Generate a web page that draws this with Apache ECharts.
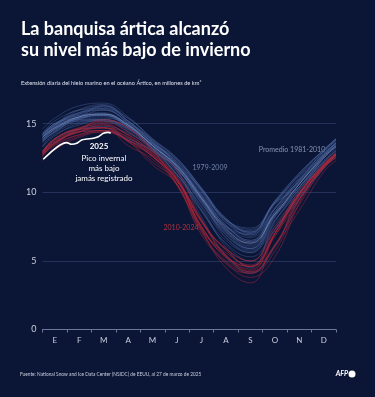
<!DOCTYPE html>
<html>
<head>
<meta charset="utf-8">
<script src="https://cdn.jsdelivr.net/npm/echarts@6/dist/echarts.min.js"></script>
<style>
  html, body { margin: 0; padding: 0; background: #0b1637; }
  #chart { width: 375px; height: 397px; }
</style>
</head>
<body>
<div id="chart"></div>
<script>
// month labels (Spanish initials) and sample positions in "months since Jan 1"
const months = ['E', 'F', 'M', 'A', 'M', 'J', 'J', 'A', 'S', 'O', 'N', 'D'];
// 1 ene, mid-month x12, 31 dic
const samplePos = [0, 0.5, 1.5, 2.5, 3.5, 4.5, 5.5, 6.5, 7.5, 8.5, 9.5, 10.5, 11.5, 12];

// extent, millions of km2, one row per year
const years1979_2009 = [1979,1980,1981,1982,1983,1984,1985,1986,1987,1988,1989,1990,1991,1992,1993,1994,1995,1996,1997,1998,1999,2000,2001,2002,2003,2004,2005,2006,2007,2008,2009];
const extent1979_2009 = [
  [14.6, 15.4, 16.3, 16.5, 15.5, 13.9, 12.5, 10.3, 8.0, 6.8, 8.8, 10.8, 12.7, 13.6],
  [14.2, 14.9, 16.0, 16.1, 15.4, 13.8, 12.2, 10.1, 8.0, 7.4, 9.2, 11.3, 13.1, 13.9],
  [14.1, 14.9, 15.6, 15.7, 15.0, 13.8, 12.4, 10.3, 7.8, 6.9, 8.9, 10.9, 12.8, 13.6],
  [14.3, 15.2, 16.0, 16.3, 15.4, 13.9, 12.4, 10.3, 8.1, 7.0, 9.4, 11.4, 13.1, 13.8],
  [14.2, 14.9, 15.8, 16.3, 15.2, 13.6, 12.4, 10.2, 8.1, 7.1, 9.3, 11.2, 13.0, 13.7],
  [13.8, 14.5, 15.3, 15.7, 14.8, 13.5, 11.9, 9.8, 7.6, 6.5, 8.6, 10.6, 12.7, 13.5],
  [14.0, 14.7, 15.5, 16.3, 15.2, 13.8, 12.0, 9.7, 7.4, 6.4, 8.8, 10.9, 13.0, 13.8],
  [14.2, 14.9, 15.7, 16.2, 15.2, 13.7, 12.0, 9.9, 7.8, 7.1, 9.3, 11.0, 13.0, 13.9],
  [14.3, 15.0, 15.8, 16.0, 15.1, 13.6, 12.3, 10.1, 7.6, 7.0, 9.3, 11.3, 13.1, 13.9],
  [14.1, 14.8, 16.0, 16.4, 15.2, 13.7, 12.1, 10.0, 8.0, 7.1, 9.3, 11.4, 13.1, 13.9],
  [14.2, 15.0, 15.5, 16.0, 15.0, 13.6, 12.1, 9.7, 7.5, 6.7, 8.8, 11.1, 12.9, 13.8],
  [14.2, 15.0, 15.8, 16.1, 15.0, 13.2, 11.8, 9.5, 6.9, 5.9, 8.5, 10.8, 12.8, 13.6],
  [13.9, 14.6, 15.4, 15.6, 14.8, 13.4, 11.9, 9.8, 7.4, 6.2, 8.3, 10.6, 12.5, 13.4],
  [14.0, 14.7, 15.4, 15.6, 14.9, 13.4, 12.0, 10.2, 7.9, 7.2, 9.2, 10.8, 12.6, 13.6],
  [14.2, 15.0, 15.7, 16.0, 15.1, 13.6, 11.8, 9.5, 7.2, 6.1, 8.6, 10.9, 12.8, 13.6],
  [14.1, 14.8, 15.6, 15.8, 14.9, 13.6, 12.0, 9.6, 7.5, 6.9, 9.1, 10.7, 12.8, 13.6],
  [13.9, 14.6, 15.2, 15.2, 14.7, 13.2, 11.5, 9.2, 6.9, 5.8, 7.9, 10.3, 12.5, 13.3],
  [13.7, 14.4, 15.3, 15.2, 14.6, 13.5, 12.2, 10.2, 8.0, 7.3, 9.2, 10.4, 12.5, 13.4],
  [13.8, 14.6, 15.4, 15.6, 14.8, 13.4, 11.8, 9.6, 7.6, 6.4, 8.3, 10.6, 12.7, 13.5],
  [14.0, 14.8, 15.5, 15.7, 14.9, 13.3, 11.7, 9.5, 7.1, 6.3, 8.5, 10.4, 12.5, 13.3],
  [13.8, 14.6, 15.3, 15.4, 14.9, 13.5, 11.8, 9.2, 7.1, 5.9, 8.2, 10.4, 12.5, 13.3],
  [13.7, 14.4, 15.2, 15.3, 14.7, 13.2, 11.7, 9.5, 7.2, 6.0, 8.4, 10.2, 12.3, 13.2],
  [13.8, 14.6, 15.5, 15.7, 14.8, 13.4, 11.7, 9.4, 7.5, 6.5, 8.4, 10.0, 12.5, 13.3],
  [13.7, 14.4, 15.4, 15.5, 14.8, 13.4, 11.7, 9.4, 6.7, 5.6, 8.2, 10.4, 12.2, 13.1],
  [13.6, 14.5, 15.4, 15.6, 14.7, 13.1, 11.7, 9.3, 7.0, 5.9, 8.0, 10.0, 12.2, 13.0],
  [13.3, 14.1, 15.0, 15.2, 14.4, 13.0, 11.3, 9.0, 6.7, 5.7, 7.7, 9.9, 12.1, 12.8],
  [13.0, 13.8, 14.6, 14.8, 14.3, 13.2, 11.2, 8.6, 6.3, 5.3, 7.3, 9.7, 11.8, 12.7],
  [12.9, 13.6, 14.4, 14.5, 13.9, 13.0, 11.3, 8.7, 6.5, 5.6, 7.5, 9.5, 11.7, 12.6],
  [13.0, 13.9, 14.6, 14.7, 13.8, 13.0, 11.5, 8.2, 5.4, 4.1, 6.0, 9.5, 11.8, 12.9],
  [13.4, 14.3, 15.1, 15.3, 14.5, 13.2, 11.3, 8.9, 6.0, 4.5, 7.9, 10.2, 12.3, 13.0],
  [13.3, 14.2, 14.9, 15.3, 14.6, 13.3, 11.6, 8.7, 6.2, 5.0, 7.3, 9.9, 12.0, 12.8]
];

const years2010_2024 = [2010,2011,2012,2013,2014,2015,2016,2017,2018,2019,2020,2021,2022,2023,2024];
const extent2010_2024 = [
  [12.9, 13.8, 14.6, 15.2, 14.7, 13.0, 10.8, 7.9, 5.8, 4.6, 7.0, 9.8, 11.8, 12.7],
  [12.8, 13.6, 14.4, 14.7, 14.2, 12.8, 11.0, 7.4, 5.3, 4.3, 7.0, 9.9, 12.0, 12.8],
  [12.9, 13.7, 14.6, 15.3, 14.7, 13.1, 10.6, 7.3, 4.5, 3.4, 7.0, 9.9, 12.0, 12.8],
  [12.9, 13.9, 14.7, 15.1, 14.4, 13.1, 11.6, 8.0, 5.9, 5.0, 7.5, 9.9, 12.1, 12.9],
  [12.9, 13.7, 14.4, 14.9, 14.2, 12.9, 11.1, 7.8, 5.9, 5.0, 7.2, 10.1, 12.0, 12.8],
  [12.7, 13.6, 14.4, 14.5, 14.0, 12.6, 10.9, 8.0, 5.4, 4.4, 7.0, 9.9, 11.9, 12.7],
  [12.6, 13.5, 14.2, 14.5, 13.7, 12.0, 10.6, 7.5, 5.2, 4.2, 6.1, 8.7, 11.5, 12.3],
  [12.3, 13.2, 14.1, 14.4, 13.8, 12.7, 10.9, 7.5, 5.3, 4.6, 6.8, 9.5, 11.8, 12.5],
  [12.4, 13.1, 14.0, 14.4, 13.7, 12.2, 10.8, 7.9, 5.4, 4.6, 6.1, 9.8, 11.9, 12.7],
  [12.7, 13.6, 14.4, 14.7, 13.4, 12.4, 10.5, 7.2, 4.8, 4.1, 5.7, 9.4, 12.0, 12.8],
  [13.0, 13.9, 14.7, 14.9, 13.7, 12.6, 10.6, 6.9, 4.9, 3.8, 5.3, 9.2, 12.0, 12.7],
  [12.8, 13.5, 14.5, 14.7, 13.8, 12.6, 10.9, 7.3, 5.6, 4.7, 7.0, 9.7, 11.9, 12.8],
  [12.9, 13.9, 14.6, 14.7, 14.0, 12.8, 11.0, 7.9, 5.8, 4.6, 6.8, 9.9, 11.9, 12.7],
  [12.7, 13.4, 14.2, 14.5, 13.8, 12.6, 10.9, 7.5, 5.4, 4.2, 6.1, 9.5, 11.8, 12.6],
  [12.7, 13.9, 14.6, 15.0, 14.1, 12.7, 10.5, 7.1, 5.0, 4.1, 6.2, 9.1, 11.8, 12.5]
];

// promedio 1981-2010
const avg1981_2010 = [14.0, 14.7, 15.5, 15.7, 14.9, 13.4, 11.9, 9.6, 7.3, 6.3, 8.4, 10.6, 12.6, 13.4];

// 2025 so far (to late March)
const pos2025 = [0.03, 0.44, 0.72, 0.99, 1.19, 1.40, 1.60, 1.81, 2.08, 2.28, 2.49, 2.69, 2.79];
const extent2025 = [12.41, 13.08, 13.45, 13.62, 13.50, 13.57, 13.81, 13.88, 13.94, 14.05, 14.30, 14.37, 14.30];

const chart = echarts.init(document.getElementById('chart'));

function toPairs(pos, vals) {
  return vals.map((v, i) => [pos[i], v]);
}

const series = [];
extent1979_2009.forEach((row, i) => {
  series.push({
    name: String(years1979_2009[i]), type: 'line',
    data: toPairs(samplePos, row), smooth: 0.45, symbol: 'none', clip: false,
    lineStyle: { color: 'rgba(78,106,162,0.55)', width: 0.7 }, z: 2
  });
});
extent2010_2024.forEach((row, i) => {
  series.push({
    name: String(years2010_2024[i]), type: 'line',
    data: toPairs(samplePos, row), smooth: 0.45, symbol: 'none', clip: false,
    lineStyle: { color: 'rgba(178,38,56,0.62)', width: 0.75 }, z: 3
  });
});
series.push({
  name: 'Promedio 1981-2010', type: 'line',
  data: toPairs(samplePos, avg1981_2010), smooth: 0.45, symbol: 'none', clip: false,
  lineStyle: { color: 'rgba(140,160,200,0.7)', width: 0.8 }, z: 4
});
series.push({
  name: '2025', type: 'line',
  data: toPairs(pos2025, extent2025), smooth: 0.3, symbol: 'none', clip: false,
  lineStyle: { color: '#ffffff', width: 1.6 }, z: 5
});

const txt = '#c9cfdd';
chart.setOption({
  backgroundColor: '#0b1637',
  animation: false,
  grid: { left: 42.5, right: 39, top: 123.7, bottom: 67.5 },
  xAxis: [
    {
      type: 'value', min: 0, max: 12, interval: 1,
      axisLine: { show: true, lineStyle: { color: '#6b7699', width: 1 } },
      axisTick: { show: true, length: 3, lineStyle: { color: '#6b7699' } },
      axisLabel: { show: false },
      splitLine: { show: false }
    },
    {
      type: 'category', data: months, position: 'bottom', boundaryGap: true,
      axisLine: { show: false }, axisTick: { show: false },
      axisLabel: { color: txt, fontSize: 8, fontFamily: 'Lato', margin: 7 },
      splitLine: { show: false }
    }
  ],
  yAxis: {
    type: 'value', min: 0, max: 15, interval: 5,
    axisLine: { show: false }, axisTick: { show: false },
    axisLabel: { color: txt, fontSize: 9, fontFamily: 'Lato', margin: 6 },
    splitLine: { lineStyle: { color: '#243158', width: 1 } }
  },
  series: series,
  graphic: [
    { type: 'text', x: 21, y: 29, style: { text: 'La banquisa ártica alcanzó', fill: '#ffffff', font: 'bold 18px Lato', textVerticalAlign: 'middle' } },
    { type: 'text', x: 21, y: 50, style: { text: 'su nivel más bajo de invierno', fill: '#ffffff', font: 'bold 18px Lato', textVerticalAlign: 'middle' } },
    { type: 'text', x: 21, y: 83, style: { text: 'Extensión diaria del hielo marino en el océano Ártico, en millones de km²', fill: '#dfe3ec', font: '5.7px Lato', textVerticalAlign: 'middle' } },
    { type: 'text', x: 99, y: 146, style: { text: '2025', fill: '#ffffff', font: 'bold 8px Lato', textAlign: 'center', textVerticalAlign: 'middle' } },
    { type: 'text', x: 104, y: 158, style: { text: 'Pico invernal', fill: '#ffffff', font: '8px Lato', textAlign: 'center', textVerticalAlign: 'middle' } },
    { type: 'text', x: 104, y: 168, style: { text: 'más bajo', fill: '#ffffff', font: '8px Lato', textAlign: 'center', textVerticalAlign: 'middle' } },
    { type: 'text', x: 104, y: 178, style: { text: 'jamás registrado', fill: '#ffffff', font: '8px Lato', textAlign: 'center', textVerticalAlign: 'middle' } },
    { type: 'text', x: 210, y: 168, style: { text: '1979-2009', fill: '#7283a6', font: '7px Lato', textAlign: 'center', textVerticalAlign: 'middle' } },
    { type: 'text', x: 292, y: 150, style: { text: 'Promedio 1981-2010', fill: '#8893b0', font: '7px Lato', textAlign: 'center', textVerticalAlign: 'middle' } },
    { type: 'text', x: 181, y: 228, style: { text: '2010-2024', fill: '#b8303e', font: '7px Lato', textAlign: 'center', textVerticalAlign: 'middle' } },
    { type: 'text', x: 20, y: 374, style: { text: 'Fuente: National Snow and Ice Data Center (NSIDC) de EEUU, al 27 de marzo de 2025', fill: '#c9cfdd', font: '4.8px Lato', textVerticalAlign: 'middle' } },
    { type: 'text', x: 348, y: 374, style: { text: 'AFP', fill: '#ffffff', font: 'italic bold 7px Lato', textAlign: 'right', textVerticalAlign: 'middle' } },
    { type: 'circle', shape: { cx: 352, cy: 374, r: 3.5 }, style: { fill: '#ffffff' } }
  ]
});
</script>
</body>
</html>
